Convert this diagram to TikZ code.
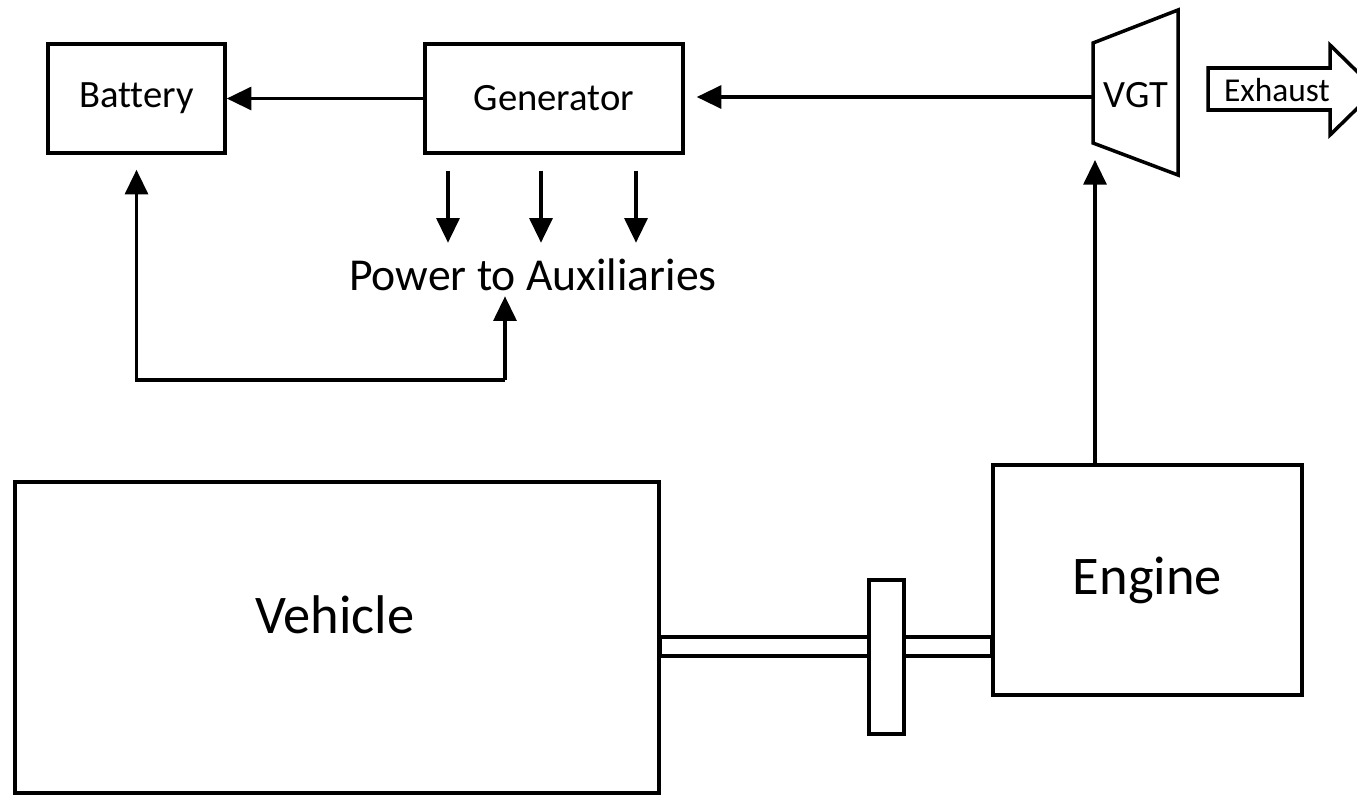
\documentclass[tikz,border=0pt]{standalone}
\usepackage{fontspec}
\setmainfont{Carlito}[Ligatures=NoCommon]
\usetikzlibrary{arrows.meta,calc}

\begin{document}
\begin{tikzpicture}[
  x=0.02cm, y=-0.02cm,
  line width=2pt,
  box/.style={draw, fill=white, inner sep=0pt, align=center},
  small/.style={font=\fontsize{22}{26}\selectfont},
  big/.style={font=\fontsize{31}{36}\selectfont},
  flow/.style={-{Triangle[length=14pt,width=13pt]}},
  ]
  \useasboundingbox (0,0) rectangle (1357,795);

  % Upper row: battery, generator, turbine
  \node[box, small, minimum width=3.54cm, minimum height=2.18cm] (bat) at (136.5,98.5) {Battery};
  \node[box, small, minimum width=5.16cm, minimum height=2.18cm] (gen) at (554,98.5) {Generator};
  \draw (1093,43) coordinate (vgtTL) -- (1178,10) -- (1178,175) -- (1093,143) coordinate (vgtBL) -- cycle;
  \node[small, inner sep=0pt] (vgt) at (1136,95) {VGT};
  \coordinate (vgtin) at (1093,97);
  \coordinate (vgtB) at (1095,160);
  \draw[flow] (gen.west) -- (bat.east);
  \draw[flow, shorten >=0.24cm] (vgtin) -- (vgtin -| gen.east);

  % Exhaust block arrow
  \draw (1208,68) -- (1330,68) -- (1330,45) -- (1376,90) -- (1330,135)
    -- (1330,110) -- (1208,110) -- cycle;
  \node[font=\fontsize{19}{22}\selectfont, inner sep=0pt] (exh) at (1277,90) {Exhaust};

  % Auxiliary loads
  \node[font=\fontsize{26}{30}\selectfont, inner sep=2pt] (aux) at (533,275) {Power to Auxiliaries};
  \foreach \dx in {-106,-13,82}
    \draw[flow] ([xshift=\dx*0.02cm, yshift=-0.32cm]gen.south) -- ++(0,72);
  \coordinate (auxin) at (505,380);
  \draw[flow, shorten >=0.3cm] (auxin) -| (bat.south);
  \draw[flow] (auxin) -- (auxin |- aux.south);

  % Lower row: vehicle, shaft with coupling, engine
  \node[box, minimum width=12.88cm, minimum height=6.22cm] (veh) at (337,637.5) {};
  \node[big] (vehtxt) at (335,615) {Vehicle};
  \node[box, big, minimum width=6.18cm, minimum height=4.6cm] (eng) at (1147.5,580) {Engine};
  \draw[fill=white] (veh.east |- 0,637) rectangle (eng.west |- 0,656);
  \node[box, minimum width=0.7cm, minimum height=3.08cm] (clutch) at (886.5,657) {};
  \draw[flow] (vgtB |- eng.north) -- (vgtB);
\end{tikzpicture}
\end{document}
